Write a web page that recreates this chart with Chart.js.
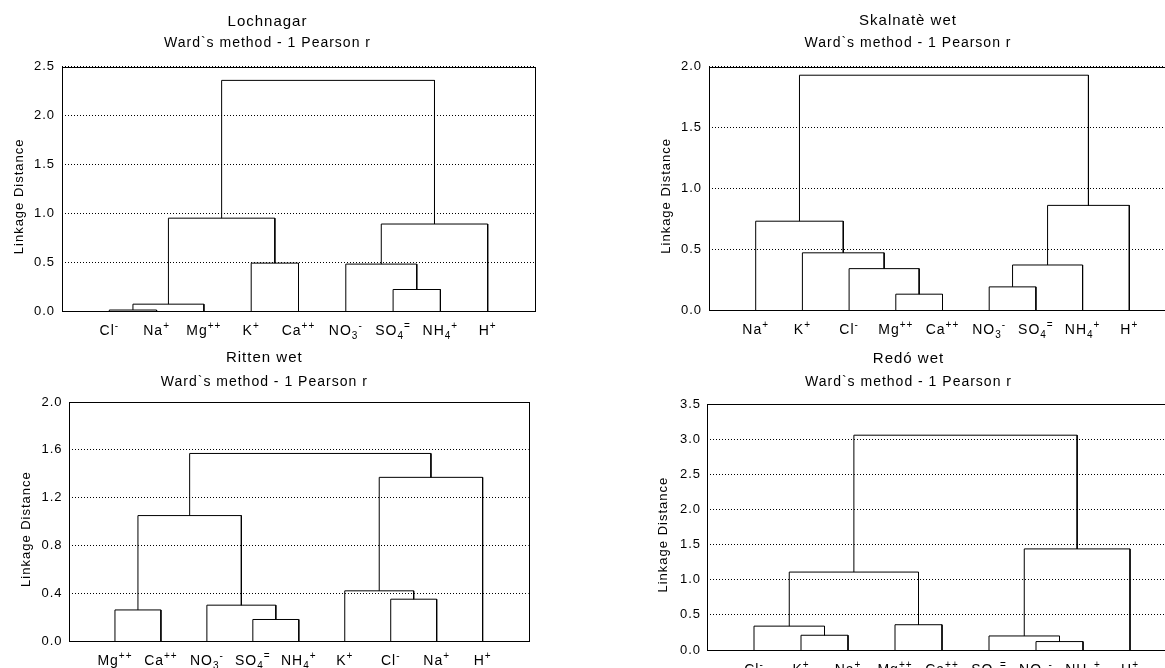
<!DOCTYPE html>
<html>
<head>
<meta charset="utf-8">
<script src="https://cdn.jsdelivr.net/npm/chart.js@4.4.0/dist/chart.umd.min.js"></script>
<style>
html, body { margin: 0; padding: 0; overflow: hidden; background: #fff; }
body { width: 1165px; height: 668px; position: relative; }
canvas { position: absolute; }
</style>
</head>
<body>
<canvas id="lochnagar" width="572" height="340" style="left:0px;top:0px"></canvas>
<canvas id="skalnate" width="581" height="340" style="left:640px;top:0px"></canvas>
<canvas id="ritten" width="572" height="328" style="left:0px;top:340px"></canvas>
<canvas id="redo" width="581" height="350" style="left:640px;top:340px"></canvas>
<script>
// leaf labels: [base, subscript, superscript], in dendrogram order
const lochnagarLeaves = [['Cl','','-'],['Na','','+'],['Mg','','++'],['K','','+'],['Ca','','++'],['NO','3','-'],['SO','4','='],['NH','4','+'],['H','','+']];
const skalnateLeaves = [['Na','','+'],['K','','+'],['Cl','','-'],['Mg','','++'],['Ca','','++'],['NO','3','-'],['SO','4','='],['NH','4','+'],['H','','+']];
const rittenLeaves = [['Mg','','++'],['Ca','','++'],['NO','3','-'],['SO','4','='],['NH','4','+'],['K','','+'],['Cl','','-'],['Na','','+'],['H','','+']];
const redoLeaves = [['Cl','','-'],['K','','+'],['Na','','+'],['Mg','','++'],['Ca','','++'],['SO','4','='],['NO','3','-'],['NH','4','+'],['H','','+']];

// merges: pairs of node ids (0-8 leaves, 9+ clusters in merge order)
const lochnagarMerges = [[0,1],[9,2],[3,4],[10,11],[6,7],[5,13],[14,8],[12,15]];
const lochnagarHeights = [0.01, 0.07, 0.49, 0.95, 0.22, 0.48, 0.89, 2.36];

const skalnateMerges = [[3,4],[2,9],[1,10],[0,11],[5,6],[13,7],[14,8],[12,15]];
const skalnateHeights = [0.13, 0.34, 0.47, 0.73, 0.19, 0.37, 0.86, 1.93];

const rittenMerges = [[0,1],[3,4],[2,10],[9,11],[6,7],[5,13],[14,8],[12,15]];
const rittenHeights = [0.26, 0.18, 0.30, 1.05, 0.35, 0.42, 1.37, 1.57];

const redoMerges = [[1,2],[0,9],[3,4],[10,11],[6,7],[5,13],[14,8],[12,15]];
const redoHeights = [0.21, 0.34, 0.36, 1.11, 0.12, 0.20, 1.44, 3.06];

const subtitleText = 'Ward`s method - 1 Pearson r';
const yTitleText = 'Linkage Distance';
const fam = '"Liberation Sans", Arial, sans-serif';

const leafLabels = {
  lochnagar: lochnagarLeaves,
  skalnate: skalnateLeaves,
  ritten: rittenLeaves,
  redo: redoLeaves
};

function makeLinks(merges, heights) {
  const xs = [], ys = [];
  for (let i = 0; i < 9; i++) { xs.push(i + 1); ys.push(0); }
  const sets = [];
  merges.forEach((m, i) => {
    const a = m[0], b = m[1], h = heights[i];
    sets.push({
      data: [{x: xs[a], y: ys[a]}, {x: xs[a], y: h}, {x: xs[b], y: h}, {x: xs[b], y: ys[b]}],
      showLine: true,
      borderColor: '#000',
      borderWidth: 1,
      pointRadius: 0,
      tension: 0
    });
    xs.push((xs[a] + xs[b]) / 2);
    ys.push(h);
  });
  return sets;
}

const boxPlugin = {
  id: 'boxAndLabels',
  beforeDraw(chart) {
    chart.ctx.letterSpacing = '1px';
  },
  afterDatasetsDraw(chart, args, opts) {
    const ctx = chart.ctx, a = chart.chartArea;
    ctx.save();
    ctx.setLineDash([]);
    ctx.strokeStyle = '#000';
    ctx.lineWidth = 1;
    ctx.strokeRect(Math.round(a.left) + 0.5, Math.round(a.top) + 0.5, Math.round(a.right - a.left), Math.round(a.bottom - a.top));

    ctx.fillStyle = '#000';

    // y axis title, sits a bit below the middle of the plot like the original
    ctx.save();
    ctx.font = '13px ' + fam;
    ctx.textAlign = 'center';
    ctx.textBaseline = 'middle';
    ctx.translate(opts.titleX, (a.top + a.bottom) / 2 + 7.5);
    ctx.rotate(-Math.PI / 2);
    ctx.fillText(yTitleText, 0, 0);
    ctx.restore();

    // ion labels with sub/superscripts
    const leaves = leafLabels[chart.canvas.id];
    const big = '14px ' + fam, small = '10px ' + fam;
    ctx.textAlign = 'left';
    ctx.textBaseline = 'alphabetic';
    leaves.forEach((p, i) => {
      const x = chart.scales.x.getPixelForValue(i + 1);
      const y = a.bottom + 24;
      ctx.font = big;
      const w0 = ctx.measureText(p[0]).width;
      ctx.font = small;
      const w1 = p[1] ? ctx.measureText(p[1]).width : 0;
      const w2 = ctx.measureText(p[2]).width;
      const left = x - (w0 + w1 + w2) / 2;
      ctx.font = big;
      ctx.fillText(p[0], left, y);
      ctx.font = small;
      if (p[1]) ctx.fillText(p[1], left + w0, y + 4);
      ctx.fillText(p[2], left + w0 + w1, y - 6);
    });
    ctx.restore();
  }
};

function makeChart(id, merges, heights, title, yMax, yStep, lay) {
  return new Chart(document.getElementById(id), {
    type: 'scatter',
    data: { datasets: makeLinks(merges, heights) },
    options: {
      responsive: false,
      animation: false,
      layout: { padding: { left: 0, right: lay.right, top: 0, bottom: 0 } },
      plugins: {
        legend: { display: false },
        tooltip: { enabled: false },
        title: {
          display: true, text: title, color: '#000',
          font: { family: fam, size: 15, weight: 'normal' },
          padding: { top: lay.t1, bottom: 0 }
        },
        subtitle: {
          display: true, text: subtitleText, color: '#000',
          font: { family: fam, size: 14 },
          padding: { top: lay.t2, bottom: lay.t3 }
        },
        boxAndLabels: { titleX: lay.yt }
      },
      scales: {
        x: {
          type: 'linear', min: 0, max: 10,
          ticks: { display: false },
          grid: { display: false },
          border: { display: false },
          afterFit: s => { s.height = lay.xh; }
        },
        y: {
          min: 0, max: yMax,
          ticks: {
            stepSize: yStep, padding: lay.tp, color: '#000',
            font: { family: fam, size: 13 },
            callback: v => v.toFixed(1)
          },
          grid: { color: '#000', drawTicks: false },
          border: { display: false, dash: [1, 2] },
          afterFit: s => { s.width = lay.yw; }
        }
      }
    },
    plugins: [boxPlugin]
  });
}

makeChart('lochnagar', lochnagarMerges, lochnagarHeights, 'Lochnagar', 2.5, 0.5,
  { right: 37, t1: 12.7, t2: 4.2, t3: 15, xh: 29, yw: 62, tp: 7, yt: 19.6 });
makeChart('skalnate', skalnateMerges, skalnateHeights, 'Skalnatè wet', 2.0, 0.5,
  { right: 45, t1: 12, t2: 4.9, t3: 15, xh: 30, yw: 69, tp: 7, yt: 26 });
makeChart('ritten', rittenMerges, rittenHeights, 'Ritten wet', 2.0, 0.4,
  { right: 43.4, t1: 9.3, t2: 6, t3: 12, xh: 27, yw: 69, tp: 6.5, yt: 26.8 });
makeChart('redo', redoMerges, redoHeights, 'Redó wet', 3.5, 0.5,
  { right: 44, t1: 10, t2: 5.3, t3: 14.2, xh: 40, yw: 67, tp: 6, yt: 23 });
</script>
</body>
</html>
